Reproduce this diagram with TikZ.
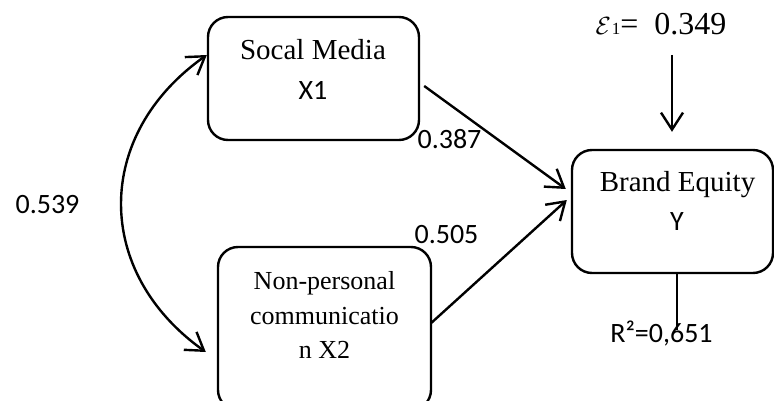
\documentclass[tikz,border=0pt]{standalone}
\usepackage{fontspec}
\setmainfont{Liberation Serif}
\newfontfamily\calibri{Carlito}
\usetikzlibrary{arrows.meta}
\begin{document}
\begin{tikzpicture}[x=1pt,y=-1pt,
  box/.style={draw, line width=2.4pt, rounded corners=20pt, inner sep=0pt},
  serif/.style={anchor=base, inner sep=0pt, font=\fontsize{29}{34}\selectfont},
  serifsmall/.style={anchor=base, inner sep=0pt, font=\fontsize{26}{30}\selectfont},
  sans/.style={anchor=base, inner sep=0pt, font=\calibri\fontsize{28}{34}\selectfont},
  barb/.tip={Straight Barb[length=17pt,width=22pt,line width=2.4pt]},
  link/.style={line width=2.4pt, -barb},
  twoway/.style={line width=2.4pt, barb-barb},
  plain/.style={line width=1.8pt}]
\clip (0,0) rectangle (774,401);

% construct boxes
\node[box, minimum width=211pt, minimum height=123pt] (sm) at (313.5,78.5) {};
\node[box, minimum width=213pt, minimum height=163pt] (np) at (324.5,328.5) {};
\node[box, minimum width=201pt, minimum height=123pt] (be) at (672.5,211.5) {};

% box captions
\node[serif] (smA) at (313,60) {Socal Media};
\node[sans]  (smB) at (313,100) {X1};
\node[serifsmall] (npA) at (324.5,289) {Non-personal};
\node[serifsmall] (npB) at (324.5,324) {communicatio};
\node[serifsmall] (npC) at (324.5,358) {n X2};
\node[serif] (beA) at (677.5,192) {Brand Equity};
\node[sans]  (beB) at (677,230) {Y};

% error term and fit
\node[anchor=base, inner sep=0pt, font=\fontsize{32}{34}\selectfont] (eps) at (661,35)
  {$\mathcal{E}$\kern1pt{\fontsize{17}{17}\selectfont 1}=~~0.349};
\node[sans] (r2) at (661.5,342) {R²=0,651};

% path coefficients
\node[sans] (c1) at (449.5,149) {0.387};
\node[sans] (c2) at (446.5,243) {0.505};
\node[sans] (c3) at (47.5,213) {0.539};

% connectors
\draw[link] ([shift={(4,7.5)}]sm.east) -- ([shift={(-5,-22.5)}]be.west);
\draw[link] ([shift={(-1,-5.5)}]np.east) -- ([shift={(-4,-11.5)}]be.west);
\coordinate (epsfoot) at (672,55);
\draw[link] (epsfoot) -- (epsfoot |- be.north) [shorten >=17pt];
\coordinate (r2top) at (677,330);
\draw[plain] ([xshift=4.5pt]be.south) -- (r2top);
\draw[twoway] ([shift={(0,-23.5)}]sm.west) .. controls (93.5,135) and (93.5,272) .. ([shift={(-11,23.5)}]np.west);
\end{tikzpicture}
\end{document}
